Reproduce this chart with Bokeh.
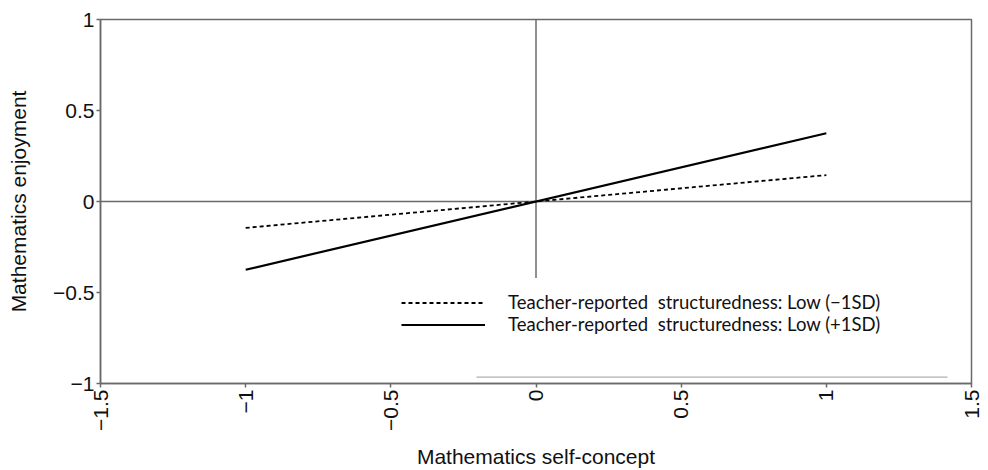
import math
from bokeh.plotting import figure
from bokeh.models import Range1d, FixedTicker, Legend, LegendItem
from bokeh.embed import file_html
from bokeh.resources import INLINE

# Data
self_concept = [-1, 1]
enjoy_low = [-0.145, 0.145]    # Low (-1SD), dotted
enjoy_high = [-0.375, 0.375]   # Low (+1SD), solid
x_ticks = [-1.5, -1, -0.5, 0, 0.5, 1, 1.5]
x_tick_labels = ["\u22121.5", "\u22121", "\u22120.5", "0", "0.5", "1", "1.5"]
y_ticks = [-1, -0.5, 0, 0.5, 1]
y_tick_labels = ["\u22121", "\u22120.5", "0", "0.5", "1"]
legend_labels = ["Teacher-reported  structuredness: Low (\u22121SD)",
                 "Teacher-reported  structuredness: Low (+1SD)"]

FONT = "Liberation Sans"
GRAY = "#6a6a6a"

p = figure(width=986, height=470, output_backend="svg", toolbar_location=None,
           x_range=Range1d(-1.5, 1.5), y_range=Range1d(-1, 1),
           min_border_left=100, min_border_top=19, min_border_right=15,
           min_border_bottom=84)
p.grid.visible = False
p.outline_line_color = GRAY
p.outline_line_width = 1.5
p.background_fill_color = "white"
p.border_fill_color = "white"

for ax in (p.xaxis[0], p.yaxis[0]):
    ax.axis_line_color = GRAY
    ax.axis_line_width = 1.5
    ax.major_tick_line_color = GRAY
    ax.major_tick_line_width = 1.5
    ax.major_tick_out = 4
    ax.major_tick_in = 0
    ax.minor_tick_line_color = None
    ax.major_label_text_font = FONT
    ax.major_label_text_font_size = "21px"
    ax.major_label_text_color = "#111111"
    ax.axis_label_text_font = FONT
    ax.axis_label_text_font_size = "21px"
    ax.axis_label_text_font_style = "normal"
    ax.axis_label_text_color = "#111111"

p.xaxis.ticker = FixedTicker(ticks=x_ticks)
p.xaxis.major_label_overrides = dict(zip(x_ticks, x_tick_labels))
p.xaxis.major_label_orientation = math.pi / 2
p.xaxis.major_label_standoff = 2
p.xaxis.axis_label = "Mathematics self-concept"
p.xaxis.axis_label_standoff = 11

p.yaxis.ticker = FixedTicker(ticks=y_ticks)
p.yaxis.major_label_overrides = dict(zip(y_ticks, y_tick_labels))
p.yaxis.major_label_standoff = 2
p.yaxis.axis_label = "Mathematics enjoyment"
p.yaxis.axis_label_standoff = 20

# reference lines
p.segment(x0=[-1.5], y0=[0], x1=[1.5], y1=[0], line_color=GRAY, line_width=1.5)
p.segment(x0=[0], y0=[1], x1=[0], y1=[-0.42], line_color=GRAY, line_width=1.5)
p.segment(x0=[-0.205], y0=[-0.965], x1=[1.417], y1=[-0.965], line_color="#b0b0b0", line_width=1.2)

r_low = p.line(self_concept, enjoy_low, line_color="black", line_width=1.8, line_dash="4 3")
r_high = p.line(self_concept, enjoy_high, line_color="black", line_width=2.2)

legend_style = dict(padding=0, margin=0, spacing=0,
                    glyph_width=84, glyph_height=19, label_height=19,
                    label_standoff=23, border_line_alpha=0, background_fill_alpha=0,
                    label_text_font="Lato", label_text_font_size="18.5px",
                    label_text_color="#111111")
legend_low = Legend(items=[LegendItem(label=legend_labels[0], renderers=[r_low])],
                    location=(301, 70), **legend_style)
legend_high = Legend(items=[LegendItem(label=legend_labels[1], renderers=[r_high])],
                     location=(301, 48), **legend_style)
p.add_layout(legend_low, "center")
p.add_layout(legend_high, "center")

open("out.html", "w").write(file_html(p, INLINE))
